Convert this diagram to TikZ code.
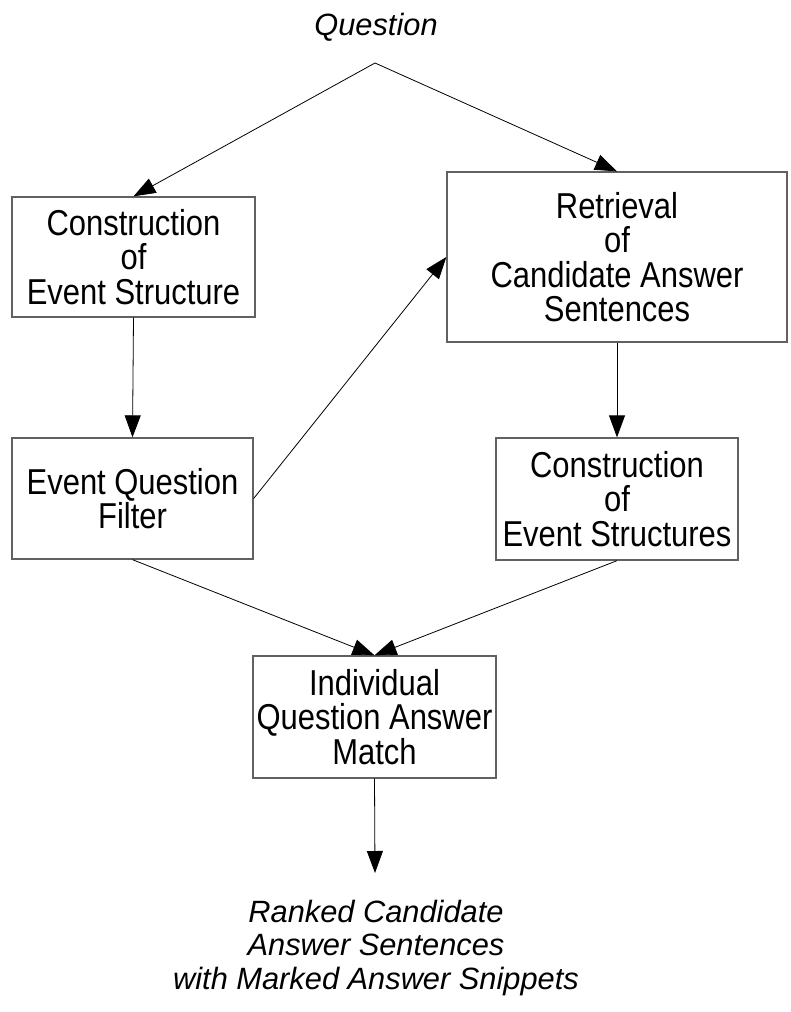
\documentclass[tikz,border=0pt]{standalone}
\usepackage{fontspec}
\setmainfont{Liberation Sans}
\newfontfamily\narrowsans[FakeStretch=0.86]{Liberation Sans}
\usetikzlibrary{arrows.meta}
\begin{document}
\begin{tikzpicture}[x=1pt,y=-1pt,
  stagebox/.style={draw=black!62, line width=1.3pt, fill=white, align=center,
    inner sep=0pt, font=\narrowsans\fontsize{36}{34.5}\selectfont},
  caption/.style={align=center, inner sep=0pt,
    font=\fontsize{30.8}{33.5}\selectfont\itshape},
  flow/.style={draw=black, line width=0.8pt,
    -{Triangle[length=22pt,width=16pt]}}]
\useasboundingbox (0,0) rectangle (791,1012);

% inputs and outputs
\node[caption] (question) at (376,27) {Question};
\coordinate (fork) at (375,63);
\node[caption] (result) at (376,948)
  {Ranked Candidate\\Answer Sentences\\with Marked Answer Snippets};
\coordinate (resultin) at (375,873);

% processing stages
\node[stagebox, minimum width=243pt, minimum height=120pt] (conq) at (133.5,257)
  {Construction\\of\\Event Structure};
\node[stagebox, minimum width=340pt, minimum height=170pt] (retr) at (617,257)
  {Retrieval\\of\\Candidate Answer\\Sentences};
\node[stagebox, minimum width=241pt, minimum height=121pt] (filt) at (132.5,498.5)
  {Event Question\\Filter};
\node[stagebox, minimum width=242pt, minimum height=122pt] (cons) at (617,499)
  {Construction\\of\\Event Structures};
\node[stagebox, minimum width=243pt, minimum height=122pt] (match) at (374.5,717)
  {Individual\\Question Answer\\Match};

% connectors
\draw[flow] (fork) -- (conq.north);
\draw[flow] (fork) -- (retr.north);
\draw[flow] (conq.south) -- (filt.north);
\draw[flow] (filt.east) -- (retr.west);
\draw[flow] (retr.south) -- (cons.north);
\draw[flow] (filt.south) -- (match.north);
\draw[flow] (cons.south) -- (match.north);
\draw[flow] (match.south) -- (resultin);
\end{tikzpicture}
\end{document}
